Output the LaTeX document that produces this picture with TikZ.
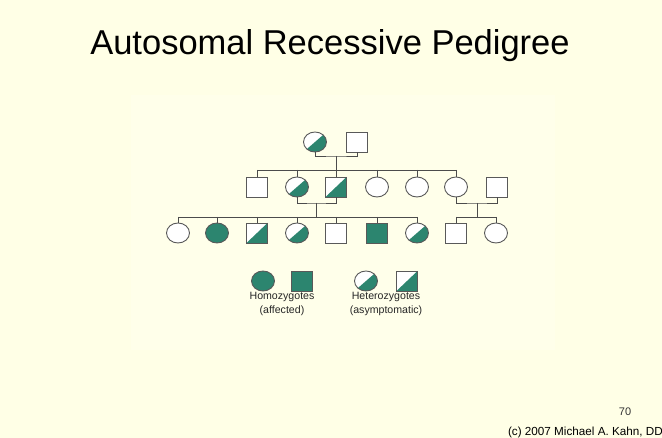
\documentclass[tikz,border=0pt]{standalone}
\usepackage{fontspec}
\setmainfont{Liberation Sans}
\usetikzlibrary{shapes.geometric}
\definecolor{cream}{RGB}{255,255,230}
\definecolor{panel}{RGB}{255,255,234}
\definecolor{affcol}{RGB}{44,133,111}
\tikzset{
  fem/.style={draw=black!65, ellipse, minimum width=23pt, minimum height=20pt, inner sep=0pt, fill=white, line width=0.9pt},
  mal/.style={draw=black!65, rectangle, minimum width=21pt, minimum height=20pt, inner sep=0pt, fill=white, line width=0.9pt},
  aff/.style={fill=affcol},
  het/.style={path picture={\fill[affcol] (path picture bounding box.south west) -- (path picture bounding box.south east) -- (path picture bounding box.north east) -- cycle;}},
  kin/.style={draw=black!70, line width=0.8pt},
  legtext/.style={align=center, font=\fontsize{10.6}{14}\selectfont, text=black!85}
}

\begin{document}
\begin{tikzpicture}[x=1pt, y=-1pt]

        \fill[cream] (0,0) rectangle (662,438);
        \useasboundingbox (0,0) rectangle (662,438);
        \fill[panel] (131,95) rectangle (555,350);

        \node[font=\fontsize{34.5}{40}\selectfont] (title) at (330,46) {Autosomal Recessive Pedigree};

        % generation I
        \node[fem, het] (i1) at (315,142) {};
        \node[mal] (i2) at (357,142) {};

        % generation II
        \node[mal] (ii1) at (257,187) {};
        \node[fem, het] (ii2) at (297,187) {};
        \node[mal, het] (ii3) at (336,187) {};
        \node[fem] (ii4) at (377,187) {};
        \node[fem] (ii5) at (417,187) {};
        \node[fem] (ii6) at (456,187) {};
        \node[mal] (ii7) at (497,187) {};

        % generation III
        \node[fem] (iii1) at (178,233) {};
        \node[fem, aff] (iii2) at (217,233) {};
        \node[mal, het] (iii3) at (257,233) {};
        \node[fem, het] (iii4) at (297,233) {};
        \node[mal] (iii5) at (336,233) {};
        \node[mal, aff] (iii6) at (377,233) {};
        \node[fem, het] (iii7) at (417,233) {};
        \node[mal] (iii8) at (456,233) {};
        \node[fem] (iii9) at (496,233) {};

        % matings and sibships
        \coordinate (m1) at (336,156);
        \coordinate (s1) at (336,170);
        \draw[kin] (i1) |- (m1) -| (i2);
        \draw[kin] (m1) -- (s1);
        \draw[kin] (ii1 |- s1) -- (ii6 |- s1);
        \foreach \n in {ii1,ii2,ii3,ii4,ii5,ii6}
            \draw[kin] (\n |- s1) -- (\n);

        \coordinate (m2) at (316,203);
        \coordinate (s2) at (316,217);
        \draw[kin] (ii2) |- (m2) -| (ii3);
        \draw[kin] (m2) -- (s2);
        \draw[kin] (iii1 |- s2) -- (iii7 |- s2);
        \foreach \n in {iii1,iii2,iii3,iii4,iii5,iii6,iii7}
            \draw[kin] (\n |- s2) -- (\n);

        \coordinate (m3) at (477,203);
        \coordinate (s3) at (477,217);
        \draw[kin] (ii6) |- (m3) -| (ii7);
        \draw[kin] (m3) -- (s3);
        \draw[kin] (iii8 |- s3) -- (iii9 |- s3);
        \foreach \n in {iii8,iii9}
            \draw[kin] (\n |- s3) -- (\n);

        % legend
        \node[fem, aff] (homf) at (263,281) {};
        \node[mal, aff] (homm) at (302,281) {};
        \node[fem, het] (hetf) at (366,281) {};
        \node[mal, het] (hetm) at (407,281) {};
        \node[legtext] (homlab) at (282,304) {Homozygotes\\(affected)};
        \node[legtext] (hetlab) at (386,304) {Heterozygotes\\(asymptomatic)};

        \node[font=\fontsize{11}{13}\selectfont, text=black!80] (slide) at (625,412) {70};
        \node[font=\fontsize{11.7}{14}\selectfont, anchor=base east, inner sep=0pt] (credit) at (663,436) {(c) 2007 Michael A. Kahn, DD};

    \end{tikzpicture}
\end{document}
